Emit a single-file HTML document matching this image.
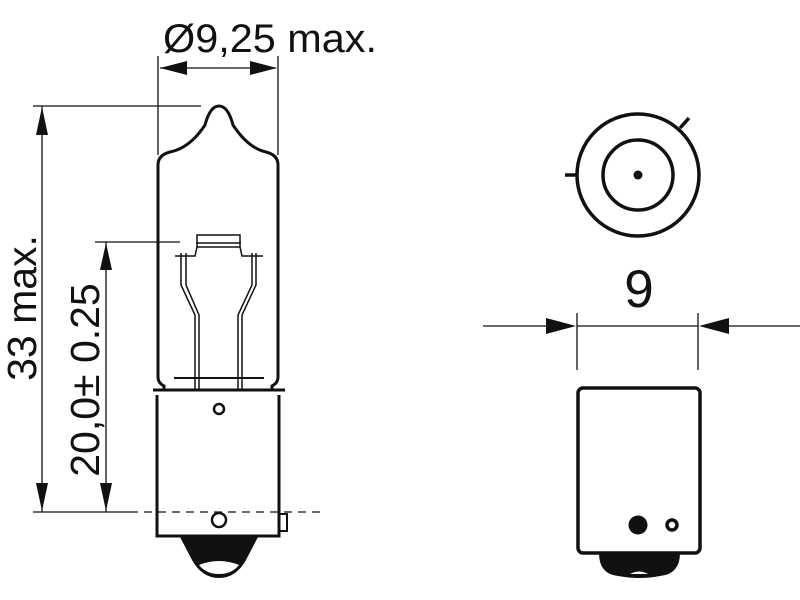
<!DOCTYPE html>
<html><head><meta charset="utf-8"><style>
html,body{margin:0;padding:0;background:#fff;}
svg{display:block;}
text{font-family:"Liberation Sans",sans-serif;fill:#111;}
</style></head><body>
<svg width="800" height="600" viewBox="0 0 800 600" xmlns="http://www.w3.org/2000/svg">
<g stroke="#111" fill="none" stroke-width="1.3">
  <line x1="158" y1="56" x2="158" y2="155"/>
  <line x1="278" y1="56" x2="278" y2="155"/>
  <line x1="160" y1="68" x2="276" y2="68"/>
  <line x1="33" y1="106" x2="201" y2="106"/>
  <line x1="42" y1="106" x2="42" y2="512"/>
  <line x1="95" y1="242" x2="180" y2="242"/>
  <line x1="106" y1="242" x2="106" y2="512"/>
  <line x1="33" y1="512" x2="130" y2="512"/>
  <line x1="130" y1="512" x2="325" y2="512" stroke-dasharray="8,6"/>
  <line x1="577" y1="313" x2="577" y2="370"/>
  <line x1="698" y1="313" x2="698" y2="370"/>
  <line x1="577" y1="326" x2="698" y2="326"/>
  <line x1="483" y1="326" x2="550" y2="326"/>
  <line x1="726" y1="326" x2="800" y2="326"/>
</g>
<g fill="#111">
  <polygon points="160,68 187,61 187,75"/>
  <polygon points="277,68 250,61 250,75"/>
  <polygon points="42,107 36,135 48,135"/>
  <polygon points="42,511 36,483 48,483"/>
  <polygon points="106,243 100,270 112,270"/>
  <polygon points="106,511 100,483 112,483"/>
  <polygon points="576,326 546,318 546,334"/>
  <polygon points="699,326 729,318 729,334"/>
</g>
<g stroke="#111" fill="none" stroke-width="3">
  <path d="M158,377 L158,165 Q158,155 170,152 Q190,148 205,125 Q210,106 219,106 Q228,106 233,125 Q248,148 266,152 Q278,155 278,165 L278,377 Q278,383 272,386 L272,390 M158,377 Q158,383 164,386 L164,390"/>
  <path d="M153,390 L285,390 M157,395 L157,536 L279,536 L279,395"/>
</g>
<g stroke="#111" fill="none" stroke-width="1.5">
  <path d="M197,247 L197,235 L240,235 L240,247 M196,243 L241,243"/>
  <path d="M175,256 L195,256 L197,247 L240,247 L242,256 L263,256"/>
  <path d="M181,253 L181,285 L195,315 L195,390 M186,253 L186,285 L199,315 L199,390"/>
  <path d="M256,253 L256,285 L242,315 L242,390 M252,253 L252,285 L238,315 L238,390"/>
  <line x1="174" y1="378" x2="264" y2="378" stroke-width="2"/>
</g>
<g stroke="#111" fill="none" stroke-width="2.5">
  <circle cx="219" cy="409" r="5"/>
  <circle cx="219" cy="520" r="7"/>
  <rect x="279" y="514" width="8" height="17" stroke-width="2"/>
</g>
<path d="M180,537 L258,537 L246,560 Q236,578 219,578 Q202,578 192,560 Z" fill="#111"/>
<path d="M199,565 Q219,557 239,565 Q232,574 219,574 Q206,574 199,565 Z" fill="#fff"/>
<g stroke="#111" fill="none" stroke-width="3.5">
  <circle cx="638" cy="175" r="61"/>
  <circle cx="638" cy="175" r="35"/>
  <line x1="565" y1="175" x2="577" y2="175"/>
  <line x1="680" y1="128" x2="689" y2="118"/>
  <rect x="578" y="388" width="122" height="165" rx="5"/>
  <circle cx="672" cy="525" r="5"/>
</g>
<circle cx="638" cy="175" r="4.5" fill="#111"/>
<circle cx="638" cy="525" r="9.5" fill="#111"/>
<path d="M599,553 L680,553 Q680,574 660,576 Q640,580 618,576 Q599,574 599,553 Z" fill="#111"/>
<path d="M630,574 Q639,569 648,574 Z" fill="#fff"/>
<text x="163" y="52" font-size="40" textLength="214" lengthAdjust="spacingAndGlyphs">Ø9,25 max.</text>
<text transform="translate(36,308) rotate(-90)" font-size="41" text-anchor="middle">33 max.</text>
<text transform="translate(99,380) rotate(-90)" font-size="41" text-anchor="middle">20,0± 0.25</text>
<text x="639" y="307" font-size="53" text-anchor="middle">9</text>
</svg>
</body></html>
